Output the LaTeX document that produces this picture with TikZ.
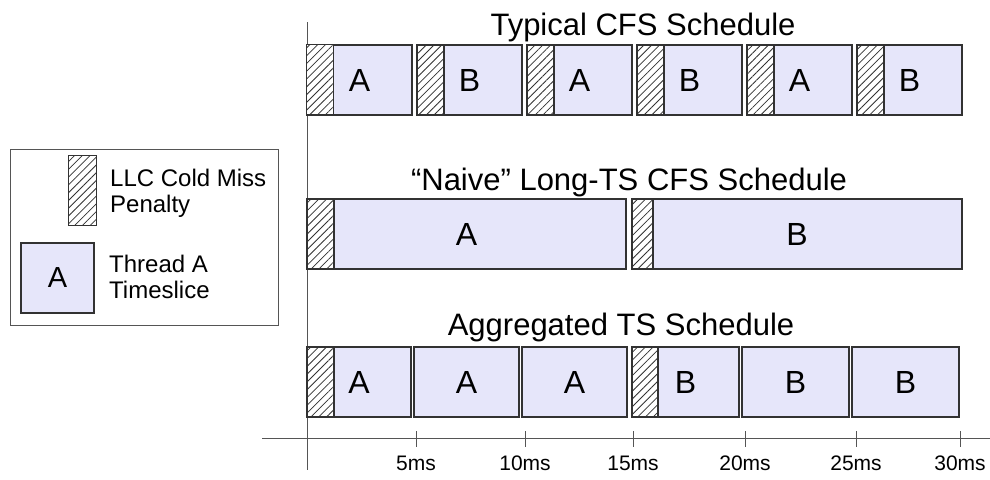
\documentclass[tikz,border=0pt]{standalone}
\usepackage{fontspec}
\setmainfont{Liberation Sans}
\usetikzlibrary{positioning}
\usetikzlibrary{patterns.meta}
\definecolor{ts}{RGB}{230, 230, 250}
\definecolor{ln}{RGB}{50, 50, 50}
\definecolor{ax}{RGB}{85, 85, 85}
\tikzset{
  slice/.style={rectangle, draw=ln, fill=ts, line width=1.2pt, minimum height=70pt, inner sep=0pt, font=\fontsize{32}{32}\selectfont},
  miss/.style={rectangle, draw=ln, line width=1.2pt, minimum height=70pt, minimum width=27pt, inner sep=0pt, anchor=north west, preaction={fill=white}, pattern={Lines[angle=45, distance=5.5pt, line width=0.8pt]}, pattern color=ln},
  heading/.style={anchor=base, inner sep=0pt, font=\fontsize{31}{31}\selectfont},
  tick/.style={anchor=base, inner sep=0pt, font=\fontsize{21}{21}\selectfont},
  legtext/.style={anchor=north west, inner sep=0pt, align=left, font=\fontsize{24}{26}\selectfont},
  axis/.style={line width=1pt, color=ax}
}
\begin{document}
\begin{tikzpicture}
\useasboundingbox (0pt, 0pt) rectangle (990pt, -479pt);
% axes
\coordinate (y0) at (307pt, -22pt);
\coordinate (y1) at (307pt, -470pt);
\coordinate (x0) at (262pt, -438pt);
\coordinate (x1) at (990pt, -438pt);
\draw [axis] (y0) to (y1);
\draw [axis] (x0) to (x1);
\draw [axis] (416pt, -431pt) to (416pt, -447pt);
\draw [axis] (525pt, -431pt) to (525pt, -447pt);
\draw [axis] (633pt, -431pt) to (633pt, -447pt);
\draw [axis] (745pt, -431pt) to (745pt, -447pt);
\draw [axis] (856pt, -431pt) to (856pt, -447pt);
\draw [axis] (960pt, -431pt) to (960pt, -447pt);
\node (t1) [tick] at (416pt, -470pt) {5ms};
\node (t2) [tick] at (525pt, -470pt) {10ms};
\node (t3) [tick] at (633pt, -470pt) {15ms};
\node (t4) [tick] at (745pt, -470pt) {20ms};
\node (t5) [tick] at (856pt, -470pt) {25ms};
\node (t6) [tick] at (960pt, -470pt) {30ms};
% typical schedule
\node (h1) [heading] at (643pt, -35pt) {Typical CFS Schedule};
\node (1) [slice, minimum width=105pt] at (359.5pt, -80pt) {A};
\node (2) [slice, minimum width=105pt] at (469.5pt, -80pt) {B};
\node (3) [slice, minimum width=105pt] at (579.5pt, -80pt) {A};
\node (4) [slice, minimum width=105pt] at (689.5pt, -80pt) {B};
\node (5) [slice, minimum width=105pt] at (799.5pt, -80pt) {A};
\node (6) [slice, minimum width=105pt] at (909.5pt, -80pt) {B};
\node (m1) [miss] at (1.north west) {};
\node (m2) [miss] at (2.north west) {};
\node (m3) [miss] at (3.north west) {};
\node (m4) [miss] at (4.north west) {};
\node (m5) [miss] at (5.north west) {};
\node (m6) [miss] at (6.north west) {};
% naive long timeslice
\node (h2) [heading] at (629pt, -190pt) {``Naive'' Long-TS CFS Schedule};
\node (7) [slice, minimum width=319pt] at (466.5pt, -234pt) {A};
\node (8) [slice, minimum width=330pt] at (797pt, -234pt) {B};
\node (m7) [miss] at (7.north west) {};
\node (m8) [miss, minimum width=21pt] at (8.north west) {};
% aggregated
\node (h3) [heading] at (621pt, -335pt) {Aggregated TS Schedule};
\node (9) [slice, minimum width=104pt] at (359pt, -382pt) {A};
\node (10) [slice, minimum width=105pt] at (466.5pt, -382pt) {A};
\node (11) [slice, minimum width=105pt] at (574.5pt, -382pt) {A};
\node (12) [slice, minimum width=107pt] at (685.5pt, -382pt) {B};
\node (13) [slice, minimum width=107pt] at (795.5pt, -382pt) {B};
\node (14) [slice, minimum width=107pt] at (905.5pt, -382pt) {B};
\node (m9) [miss] at (9.north west) {};
\node (m12) [miss, minimum width=26pt] at (12.north west) {};
% legend
\node (lg) [rectangle, draw=ax, line width=1pt, minimum width=268pt, minimum height=176pt] at (144pt, -237pt) {};
\node (lm) [miss, minimum width=28pt] at (68pt, -155pt) {};
\node (la) [slice, minimum width=73pt, font=\fontsize{29}{29}\selectfont] at (57.5pt, -278pt) {A};
\node (l1) [legtext] at (110pt, -169pt) {LLC Cold Miss\\Penalty};
\node (l2) [legtext] at (109pt, -255pt) {Thread A\\Timeslice};
\end{tikzpicture}
\end{document}
